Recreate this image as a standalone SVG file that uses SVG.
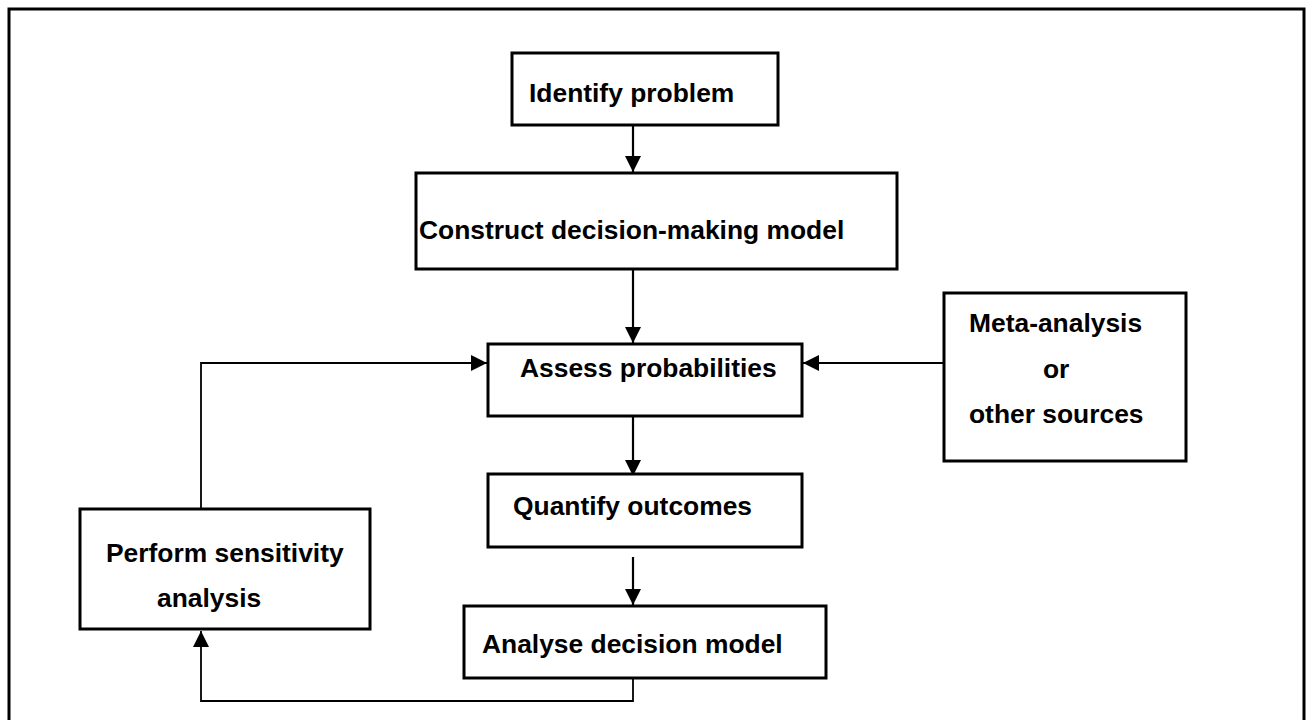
<svg xmlns="http://www.w3.org/2000/svg" width="1311" height="720" viewBox="0 0 1311 720">
  <style>
    .box { fill: #ffffff; stroke: #000000; stroke-width: 3; }
    .lbl { font-family: "Liberation Sans", Arial, sans-serif; font-weight: bold; font-size: 26.4px; fill: #000000; }
    .flow { fill: none; stroke: #000000; stroke-width: 2.2; }
    .loop { fill: none; stroke: #000000; stroke-width: 1.8; }
  </style>
  <defs>
    <marker id="arrow" viewBox="0 0 16 16" refX="16" refY="8" markerWidth="16" markerHeight="16" markerUnits="userSpaceOnUse" orient="auto">
      <path d="M0,0 L16,8 L0,16 Z" fill="#000000"/>
    </marker>
  </defs>

  <rect width="1311" height="720" fill="#ffffff"/>
  <!-- outer frame, open at the bottom edge -->
  <rect x="9" y="9" width="1295" height="730" fill="none" stroke="#000000" stroke-width="3"/>

  <g id="connectors">
    <line class="flow" x1="633" y1="125" x2="633" y2="172" marker-end="url(#arrow)"/>
    <line class="flow" x1="633" y1="269" x2="633" y2="343" marker-end="url(#arrow)"/>
    <line class="flow" x1="633" y1="413" x2="633" y2="476" marker-end="url(#arrow)"/>
    <line class="flow" x1="633" y1="557" x2="633" y2="605" marker-end="url(#arrow)"/>
    <line class="flow" x1="944" y1="363" x2="803" y2="363" marker-end="url(#arrow)"/>
    <polyline class="loop" points="633,678 633,701 201,701 201,631" marker-end="url(#arrow)"/>
    <polyline class="loop" points="201,509 201,363 487,363" marker-end="url(#arrow)"/>
  </g>

  <g id="identify-problem">
    <rect class="box" x="512" y="53" width="266" height="72"/>
    <text class="lbl" x="529" y="102">Identify problem</text>
  </g>

  <g id="construct-model">
    <rect class="box" x="416" y="173" width="481" height="96"/>
    <text class="lbl" x="419" y="239">Construct decision-making model</text>
  </g>

  <g id="assess-probabilities">
    <rect class="box" x="488" y="344" width="314" height="72"/>
    <text class="lbl" x="520" y="377">Assess probabilities</text>
  </g>

  <g id="quantify-outcomes">
    <rect class="box" x="488" y="474" width="314" height="73"/>
    <text class="lbl" x="513" y="515">Quantify outcomes</text>
  </g>

  <g id="analyse-model">
    <rect class="box" x="464" y="606" width="362" height="72"/>
    <text class="lbl" x="482" y="653">Analyse decision model</text>
  </g>

  <g id="sensitivity-analysis">
    <rect class="box" x="80" y="509" width="290" height="120"/>
    <text class="lbl" x="106" y="562">Perform sensitivity</text>
    <text class="lbl" x="157" y="607">analysis</text>
  </g>

  <g id="meta-analysis">
    <rect class="box" x="944" y="293" width="242" height="168"/>
    <text class="lbl" x="969" y="332">Meta-analysis</text>
    <text class="lbl" x="1043" y="378">or</text>
    <text class="lbl" x="969" y="423">other sources</text>
  </g>
</svg>
